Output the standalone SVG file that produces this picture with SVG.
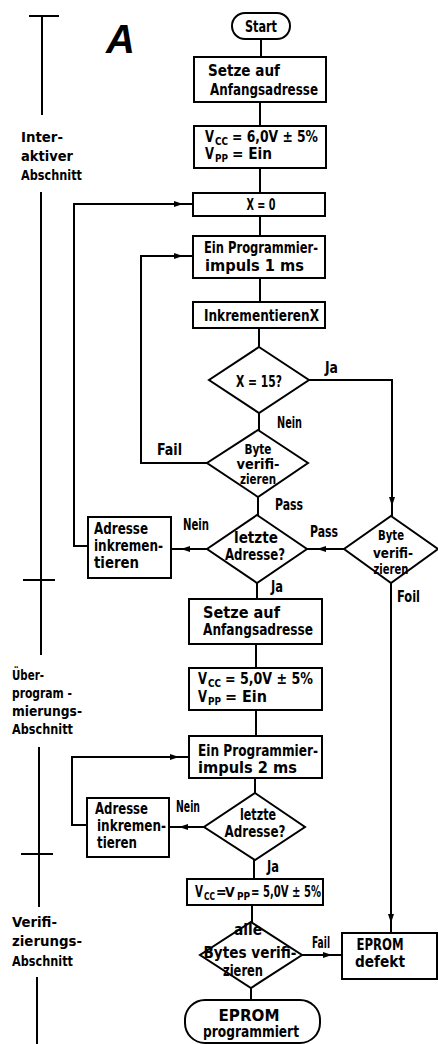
<svg xmlns="http://www.w3.org/2000/svg" width="438" height="1044" viewBox="0 0 438 1044">
<defs>
<style>
.n{fill:#fff;stroke:#000;stroke-width:2}
.c{fill:none;stroke:#000;stroke-width:2}
.a{marker-end:url(#ah)}
text{font-family:"Liberation Sans Narrow","DejaVu Sans Condensed","Liberation Sans",sans-serif;font-weight:bold;fill:#000}
.t{font-size:16px}
.t15{font-size:15px}
.d{font-size:14px}
.m{text-anchor:middle}
.l{font-size:15px}
.s{font-size:14px}
.sub{font-size:10px}
</style>
<marker id="ah" markerUnits="userSpaceOnUse" markerWidth="20" markerHeight="8" refX="19" refY="3" orient="auto" viewBox="0 0 20 6">
<path d="M0,0 L9,3 L0,6 z" fill="#000"/>
</marker>
</defs>
<rect x="0" y="0" width="438" height="1044" fill="#fff"/>

<g id="sections">
<path class="c" d="M29,16 H59 M42,16 V115 M41,192 V655 M23,580 H55 M39,747 V907 M21,854 H53 M37,977 V1044"/>
<text x="106" y="53" style="font-family:'Liberation Sans',sans-serif;font-style:italic;font-size:40px">A</text>
<text class="s" x="21" y="142" textLength="42" lengthAdjust="spacingAndGlyphs">Inter-</text>
<text class="s" x="21" y="161" textLength="52" lengthAdjust="spacingAndGlyphs">aktiver</text>
<text class="s" x="21" y="180" textLength="61" lengthAdjust="spacingAndGlyphs">Abschnitt</text>
<text class="s" x="12" y="680" textLength="32" lengthAdjust="spacingAndGlyphs">Über-</text>
<text class="s" x="12" y="698" textLength="60" lengthAdjust="spacingAndGlyphs">program -</text>
<text class="s" x="12" y="716" textLength="70" lengthAdjust="spacingAndGlyphs">mierungs-</text>
<text class="s" x="12" y="734" textLength="61" lengthAdjust="spacingAndGlyphs">Abschnitt</text>
<text class="s" x="12" y="927" textLength="45" lengthAdjust="spacingAndGlyphs">Verifi-</text>
<text class="s" x="12" y="946" textLength="70" lengthAdjust="spacingAndGlyphs">zierungs-</text>
<text class="s" x="12" y="966" textLength="61" lengthAdjust="spacingAndGlyphs">Abschnitt</text>
</g>

<g id="connectors">
<path class="c" d="M261,39 V57"/>
<path class="c" d="M260,102 V126"/>
<path class="c" d="M260,168 V193"/>
<path class="c" d="M260,216 V236"/>
<path class="c" d="M260,278 V302"/>
<path class="c" d="M259,328 V347"/>
<path class="c" d="M259,413 V430"/>
<path class="c a" d="M309,380 H392 V516"/>
<path class="c a" d="M207,463 H141 V256 H193"/>
<path class="c" d="M258,497 V515"/>
<path class="c a" d="M207,549 H171"/>
<path class="c a" d="M88,546 H74 V204 H193"/>
<path class="c a" d="M344,549 H307"/>
<path class="c" d="M257,583 V599"/>
<path class="c" d="M256,644 V668"/>
<path class="c" d="M256,710 V736"/>
<path class="c" d="M255,778 V793"/>
<path class="c a" d="M204,827 H169"/>
<path class="c a" d="M87,825 H72 V757 H189"/>
<path class="c" d="M254,860 V879"/>
<path class="c" d="M252,905 V922"/>
<path class="c" d="M251,988 V1000"/>
<path class="c a" d="M302,955 H342"/>
<path class="c a" d="M391,583 V933"/>
<text class="l" x="325" y="373" textLength="13" lengthAdjust="spacingAndGlyphs">Ja</text>
<text class="l" x="277" y="428" textLength="25" lengthAdjust="spacingAndGlyphs">Nein</text>
<text class="l" x="157" y="455" textLength="25" lengthAdjust="spacingAndGlyphs">Fail</text>
<text class="l" x="275" y="510" textLength="28" lengthAdjust="spacingAndGlyphs">Pass</text>
<text class="l" x="183" y="530" textLength="26" lengthAdjust="spacingAndGlyphs">Nein</text>
<text class="l" x="310" y="537" textLength="28" lengthAdjust="spacingAndGlyphs">Pass</text>
<text class="l" x="271" y="592" textLength="12" lengthAdjust="spacingAndGlyphs">Ja</text>
<text class="l" x="397" y="602" textLength="23" lengthAdjust="spacingAndGlyphs">Foil</text>
<text class="l" x="176" y="812" textLength="24" lengthAdjust="spacingAndGlyphs">Nein</text>
<text class="l" x="267" y="872" textLength="12" lengthAdjust="spacingAndGlyphs">Ja</text>
<text class="l" x="312" y="948" textLength="18" lengthAdjust="spacingAndGlyphs">Fail</text>
</g>

<g id="start">
<rect class="n" x="232" y="13" width="58" height="26" rx="13"/>
<text class="t m" x="261" y="32" textLength="32" lengthAdjust="spacingAndGlyphs">Start</text>
</g>
<g id="setze1">
<rect class="n" x="194" y="57" width="132" height="45"/>
<text class="t" x="208" y="76" textLength="72" lengthAdjust="spacingAndGlyphs">Setze auf</text>
<text class="t" x="210" y="95" textLength="108" lengthAdjust="spacingAndGlyphs">Anfangsadresse</text>
</g>
<g id="vcc6">
<rect class="n" x="194" y="126" width="132" height="42"/>
<text class="t" x="205" y="142" textLength="9" lengthAdjust="spacingAndGlyphs">V</text>
<text class="sub" x="215" y="145" textLength="13" lengthAdjust="spacingAndGlyphs">CC</text>
<text class="t" x="232" y="142" textLength="86" lengthAdjust="spacingAndGlyphs">= 6,0V  ± 5%</text>
<text class="t" x="205" y="159" textLength="9" lengthAdjust="spacingAndGlyphs">V</text>
<text class="sub" x="215" y="162" textLength="13" lengthAdjust="spacingAndGlyphs">PP</text>
<text class="t" x="232" y="159" textLength="40" lengthAdjust="spacingAndGlyphs">= Ein</text>
</g>
<g id="x0">
<rect class="n" x="193" y="193" width="132" height="23"/>
<text class="t m" x="261" y="210" textLength="29" lengthAdjust="spacingAndGlyphs">X = 0</text>
</g>
<g id="impuls1">
<rect class="n" x="193" y="236" width="132" height="42"/>
<text class="t" x="204" y="253" textLength="114" lengthAdjust="spacingAndGlyphs">Ein Programmier-</text>
<text class="t" x="205" y="271" textLength="99" lengthAdjust="spacingAndGlyphs">impuls  1 ms</text>
</g>
<g id="inkx">
<rect class="n" x="193" y="302" width="132" height="26"/>
<text class="t" x="204" y="321" textLength="115" lengthAdjust="spacingAndGlyphs">InkrementierenX</text>
</g>
<g id="x15">
<polygon class="n" points="259,347 309,380 259,413 209,380"/>
<text class="t15 m" x="259" y="387" textLength="46" lengthAdjust="spacingAndGlyphs">X = 15?</text>
</g>
<g id="verify1">
<polygon class="n" points="258,430 308,463 258,497 207,463"/>
<text class="d m" x="258" y="454" textLength="27" lengthAdjust="spacingAndGlyphs">Byte</text>
<text class="d m" x="258" y="469" textLength="43" lengthAdjust="spacingAndGlyphs">verifi-</text>
<text class="d m" x="258" y="484" textLength="36" lengthAdjust="spacingAndGlyphs">zieren</text>
</g>
<g id="letzte1">
<polygon class="n" points="257,515 307,549 257,583 207,549"/>
<text class="t15 m" x="256" y="543" textLength="44" lengthAdjust="spacingAndGlyphs">letzte</text>
<text class="t15 m" x="255" y="560" textLength="60" lengthAdjust="spacingAndGlyphs">Adresse?</text>
</g>
<g id="adresse1">
<rect class="n" x="88" y="517" width="83" height="61"/>
<text class="t" x="94" y="534" textLength="54" lengthAdjust="spacingAndGlyphs">Adresse</text>
<text class="t" x="94" y="551" textLength="69" lengthAdjust="spacingAndGlyphs">inkremen-</text>
<text class="t" x="94" y="568" textLength="45" lengthAdjust="spacingAndGlyphs">tieren</text>
</g>
<g id="verify2">
<polygon class="n" points="391,516 438,549 391,583 344,549"/>
<text class="d m" x="391" y="540" textLength="26" lengthAdjust="spacingAndGlyphs">Byte</text>
<text class="d m" x="393" y="558" textLength="40" lengthAdjust="spacingAndGlyphs">verifi-</text>
<text class="d m" x="391" y="574" textLength="35" lengthAdjust="spacingAndGlyphs">zieren</text>
</g>
<g id="setze2">
<rect class="n" x="189" y="599" width="133" height="45"/>
<text class="t" x="203" y="618" textLength="77" lengthAdjust="spacingAndGlyphs">Setze auf</text>
<text class="t" x="203" y="635" textLength="110" lengthAdjust="spacingAndGlyphs">Anfangsadresse</text>
</g>
<g id="vcc5">
<rect class="n" x="189" y="668" width="133" height="42"/>
<text class="t" x="198" y="684" textLength="9" lengthAdjust="spacingAndGlyphs">V</text>
<text class="sub" x="208" y="687" textLength="13" lengthAdjust="spacingAndGlyphs">CC</text>
<text class="t" x="225" y="684" textLength="88" lengthAdjust="spacingAndGlyphs">= 5,0V ± 5%</text>
<text class="t" x="198" y="702" textLength="9" lengthAdjust="spacingAndGlyphs">V</text>
<text class="sub" x="208" y="705" textLength="13" lengthAdjust="spacingAndGlyphs">PP</text>
<text class="t" x="225" y="702" textLength="42" lengthAdjust="spacingAndGlyphs">= Ein</text>
</g>
<g id="impuls2">
<rect class="n" x="189" y="736" width="133" height="42"/>
<text class="t15" x="198" y="756" textLength="120" lengthAdjust="spacingAndGlyphs">Ein Programmier-</text>
<text class="t15" x="198" y="773" textLength="99" lengthAdjust="spacingAndGlyphs">impuls  2 ms</text>
</g>
<g id="letzte2">
<polygon class="n" points="255,793 305,827 255,860 204,827"/>
<text class="t15 m" x="258" y="820" textLength="36" lengthAdjust="spacingAndGlyphs">letzte</text>
<text class="t15 m" x="255" y="837" textLength="61" lengthAdjust="spacingAndGlyphs">Adresse?</text>
</g>
<g id="adresse2">
<rect class="n" x="87" y="798" width="82" height="59"/>
<text class="t" x="95" y="814" textLength="53" lengthAdjust="spacingAndGlyphs">Adresse</text>
<text class="t" x="97" y="831" textLength="69" lengthAdjust="spacingAndGlyphs">inkremen-</text>
<text class="t" x="97" y="848" textLength="40" lengthAdjust="spacingAndGlyphs">tieren</text>
</g>
<g id="vccvpp">
<rect class="n" x="187" y="879" width="136" height="26"/>
<text class="t15" x="195" y="897" textLength="8" lengthAdjust="spacingAndGlyphs">V</text>
<text class="sub" x="204" y="900" textLength="11" lengthAdjust="spacingAndGlyphs">CC</text>
<text x="216" y="897" style="font-size:14px;letter-spacing:-1.5px;word-spacing:-3px">= V</text>
<text class="sub" x="237" y="900">PP</text>
<text class="t15" x="251" y="897" textLength="70" lengthAdjust="spacingAndGlyphs">= 5,0V ± 5%</text>
</g>
<g id="alle">
<polygon class="n" points="251,922 302,955 251,988 200,955"/>
<text class="t15 m" x="248" y="935" textLength="28" lengthAdjust="spacingAndGlyphs">alle</text>
<text class="t15 m" x="250" y="958" textLength="93" lengthAdjust="spacingAndGlyphs">Bytes verifi-</text>
<text class="t15 m" x="243" y="976" textLength="40" lengthAdjust="spacingAndGlyphs">zieren</text>
</g>
<g id="defekt">
<rect class="n" x="342" y="933" width="95" height="46"/>
<text class="t m" x="380" y="950" textLength="47" lengthAdjust="spacingAndGlyphs">EPROM</text>
<text class="t m" x="380" y="967" textLength="50" lengthAdjust="spacingAndGlyphs">defekt</text>
</g>
<g id="end">
<rect class="n" x="185" y="1000" width="135" height="43" rx="20"/>
<text class="t15 m" x="249" y="1021" textLength="61" lengthAdjust="spacingAndGlyphs">EPROM</text>
<text class="t15 m" x="251" y="1037" textLength="96" lengthAdjust="spacingAndGlyphs">programmiert</text>
</g>
</svg>
